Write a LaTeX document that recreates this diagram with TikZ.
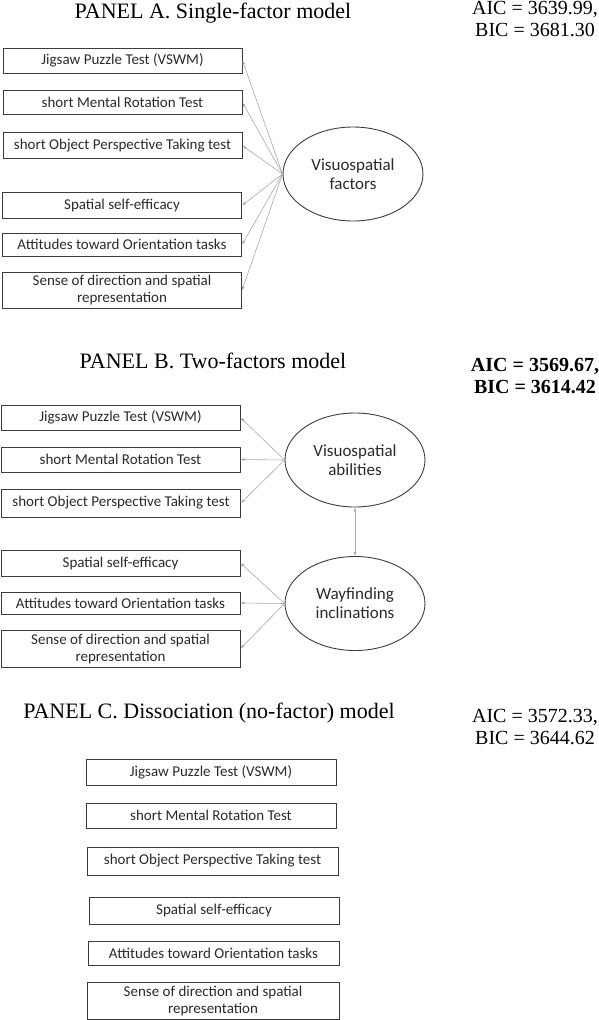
\documentclass[tikz,border=0pt]{standalone}
\usepackage{fontspec}
\setmainfont{Liberation Serif}
\newfontfamily\boxfont{Carlito}
\usetikzlibrary{shapes.geometric,arrows.meta}
\definecolor{boxgray}{HTML}{3C3C3C}
\definecolor{arrgray}{HTML}{A8A8A8}
\definecolor{txtgray}{HTML}{2A2A2A}
\begin{document}
\begin{tikzpicture}[x=1pt,y=-1pt,
  mbox/.style={draw=boxgray, line width=1pt, minimum width=239pt, inner sep=0pt,
    font=\boxfont\fontsize{15}{17}\selectfont, text=txtgray, align=center},
  latent/.style={ellipse, draw=boxgray, line width=0.9pt, minimum width=140pt,
    minimum height=94pt, inner sep=0pt, font=\boxfont\fontsize{17}{19}\selectfont,
    text=txtgray, align=center},
  load/.style={draw=arrgray, line width=0.6pt, -{Latex[length=4pt,width=3pt]}},
  corr/.style={draw=arrgray, line width=0.6pt, {Latex[length=4pt,width=3pt]}-{Latex[length=4pt,width=3pt]}},
  ptitle/.style={font=\fontsize{22}{24}\selectfont, inner sep=0pt},
  fitidx/.style={font=\fontsize{20}{22}\selectfont, align=center, inner sep=0pt}]
\useasboundingbox (0,0) rectangle (598,1020);

% ---------- Panel A ----------
\node[ptitle] (ta) at (213,13) {PANEL A. Single-factor model};
\node[fitidx] (fa) at (535,19) {AIC = 3639.99,\\BIC = 3681.30};
\node[mbox, minimum height=25pt] (a1) at (122.5,60.5) {Jigsaw Puzzle Test (VSWM)};
\node[mbox, minimum height=23.5pt] (a2) at (122.5,102.5) {short Mental Rotation Test};
\node[mbox, minimum height=26.5pt] (a3) at (122.5,145.7) {short Object Perspective Taking test};
\node[mbox, minimum height=25.5pt] (a4) at (122,205.5) {Spatial self-efficacy};
\node[mbox, minimum height=23pt] (a5) at (122,244.7) {Attitudes toward Orientation tasks};
\node[mbox, minimum height=36pt] (a6) at (122,290.3) {Sense of direction and spatial\\representation};
\node[latent] (ea) at (353,174) {Visuospatial\\factors};
\foreach \b in {a1,a2,a3,a4,a5,a6} \draw[load] (ea.west) -- (\b.east);

% ---------- Panel B ----------
\node[ptitle] (tb) at (213,361) {PANEL B. Two-factors model};
\node[fitidx, font=\bfseries\fontsize{20}{22}\selectfont] (fb) at (535,376) {AIC = 3569.67,\\BIC = 3614.42};
\node[mbox, minimum height=25pt] (b1) at (120.5,417.5) {Jigsaw Puzzle Test (VSWM)};
\node[mbox, minimum height=25pt] (b2) at (120.5,459.5) {short Mental Rotation Test};
\node[mbox, minimum height=28pt] (b3) at (121,503) {short Object Perspective Taking test};
\node[mbox, minimum height=26pt] (b4) at (120.5,563) {Spatial self-efficacy};
\node[mbox, minimum height=22pt] (b5) at (120.5,603) {Attitudes toward Orientation tasks};
\node[mbox, minimum height=37pt] (b6) at (120.5,648.5) {Sense of direction and spatial\\representation};
\node[latent] (eb1) at (355,460) {Visuospatial\\abilities};
\node[latent] (eb2) at (355,603.5) {Wayfinding\\inclinations};
\foreach \b in {b1,b2,b3} \draw[load] (eb1.west) -- (\b.east);
\foreach \b in {b4,b5,b6} \draw[load] (eb2.west) -- (\b.east);
\draw[corr] (eb1.south) -- (eb2.north);

% ---------- Panel C ----------
\node[ptitle] (tc) at (209,713) {PANEL C. Dissociation (no-factor) model};
\node[fitidx] (fc) at (535,727) {AIC = 3572.33,\\BIC = 3644.62};
\node[mbox, minimum width=250pt, minimum height=26pt] (c1) at (211,772) {Jigsaw Puzzle Test (VSWM)};
\node[mbox, minimum width=250pt, minimum height=25pt] (c2) at (211,815.5) {short Mental Rotation Test};
\node[mbox, minimum width=251pt, minimum height=28pt] (c3) at (212.5,861) {short Object Perspective Taking test};
\node[mbox, minimum width=250pt, minimum height=27pt] (c4) at (214,910.5) {Spatial self-efficacy};
\node[mbox, minimum width=251pt, minimum height=24pt] (c5) at (213.5,953) {Attitudes toward Orientation tasks};
\node[mbox, minimum width=252pt, minimum height=37pt] (c6) at (213,1000.5) {Sense of direction and spatial\\representation};
\end{tikzpicture}
\end{document}
